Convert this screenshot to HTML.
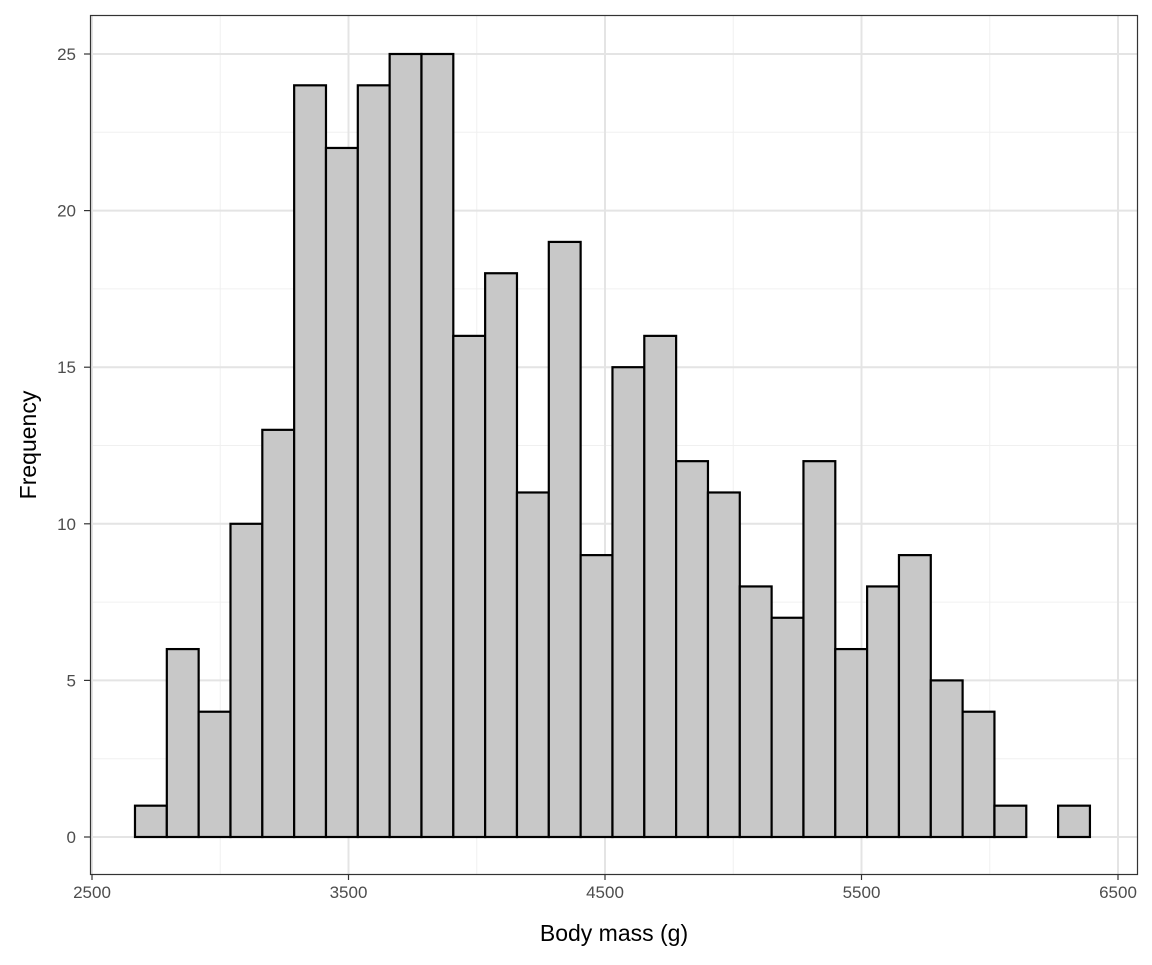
<!DOCTYPE html>
<html><head><meta charset="utf-8"><style>
body{margin:0;background:#fff;}
svg text{font-family:"Liberation Sans",Arial,sans-serif;}
</style></head><body>
<svg width="1152" height="960" xmlns="http://www.w3.org/2000/svg">
<g id="grid"></g>
<g id="bars"></g>
<rect x="90.5" y="15.5" width="1047" height="859" fill="none" stroke="#333" stroke-width="1.2"/>
<g id="ticks"></g>
<text x="614" y="941" font-size="23" text-anchor="middle" fill="#000">Body mass (g)</text>
<text transform="translate(36,445) rotate(-90)" font-size="23" text-anchor="middle" fill="#000">Frequency</text>
</svg>
<script>
const counts=[1,6,4,10,13,24,22,24,25,25,16,18,11,19,9,15,16,12,11,8,7,12,6,8,9,5,4,1,0,1];
const binStart=2667.6;
const binWidth=124.1;
const xTicks=[2500,3500,4500,5500,6500];
const xMinor=[3000,4000,5000,6000];
const yTicks=[0,5,10,15,20,25];
const yMinor=[2.5,7.5,12.5,17.5,22.5];
const NS="http://www.w3.org/2000/svg";
const X=v=>92+(v-2500)*0.2565;
const Y=v=>837-v*31.32;
const L=90,R=1138,T=15,B=874;
function mk(tag,attrs,parent){const e=document.createElementNS(NS,tag);for(const k in attrs)e.setAttribute(k,attrs[k]);parent.appendChild(e);return e;}
const grid=document.getElementById('grid'),bars=document.getElementById('bars'),ticks=document.getElementById('ticks');
xMinor.forEach(v=>{const e=mk('line',{x1:X(v),x2:X(v),y1:T,y2:B,stroke:'#f0f0f0','stroke-width':1},grid);

});
yMinor.forEach(v=>{const e=mk('line',{x1:L,x2:R,y1:Y(v),y2:Y(v),stroke:'#f0f0f0','stroke-width':1},grid);

});
xTicks.forEach(v=>{const e=mk('line',{x1:X(v),x2:X(v),y1:T,y2:B,stroke:'#e4e4e4','stroke-width':2},grid);

});
yTicks.forEach(v=>{const e=mk('line',{x1:L,x2:R,y1:Y(v),y2:Y(v),stroke:'#e4e4e4','stroke-width':2},grid);

});
counts.forEach((c,i)=>{const x0=X(binStart+i*binWidth),x1=X(binStart+(i+1)*binWidth);
const r=mk('rect',{x:x0,y:Y(c),width:x1-x0,height:Y(0)-Y(c),fill:'#c8c8c8',stroke:'#000','stroke-width':2.2},bars);

});
xTicks.forEach(v=>{const t=mk('line',{x1:X(v),x2:X(v),y1:B,y2:B+6,stroke:'#333','stroke-width':1.2},ticks);


const s=mk('text',{x:X(v),y:B+24,'font-size':17,'text-anchor':'middle',fill:'#4d4d4d'},ticks);s.textContent=v;

});
yTicks.forEach(v=>{const t=mk('line',{x1:L-6,x2:L,y1:Y(v),y2:Y(v),stroke:'#333','stroke-width':1.2},ticks);


const s=mk('text',{x:L-14,y:Y(v)+6,'font-size':17,'text-anchor':'end',fill:'#4d4d4d'},ticks);s.textContent=v;

});
</script>
</body></html>
